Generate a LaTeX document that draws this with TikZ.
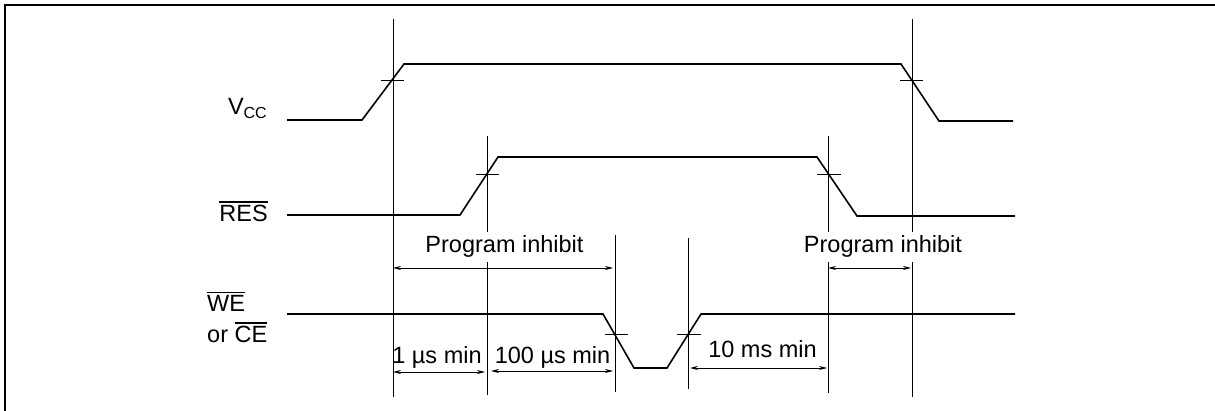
\documentclass[tikz,border=0pt]{standalone}
\usepackage{fontspec}
\setmainfont{Liberation Sans}
\usetikzlibrary{arrows.meta}
\newcommand\ovl[1]{\leavevmode\vbox{\hrule height 1.3pt\kern 2.8pt\hbox{#1}}}
\tikzset{
  signal/.style={line width=1.6pt, line join=miter},
  guide/.style={line width=0.8pt},
  tick/.style={line width=0.8pt},
  dim/.style={line width=0.8pt, {Stealth[length=8pt,width=4pt]}-{Stealth[length=8pt,width=4pt]}},
  lbl/.style={font=\fontsize{23.5}{28}\selectfont, inner sep=0pt},
  gaplbl/.style={lbl, fill=white, inner xsep=2pt, inner ysep=4pt},
}
\begin{document}
\begin{tikzpicture}[x=1pt,y=-1pt]
\useasboundingbox (0,0) rectangle (1215,411);
% frame (cropped)
\draw[line width=2pt] (5,411) -- (5,5.5) -- (1215,5.5);

% guide lines
\coordinate (g1t) at (393,19);  \coordinate (g1b) at (393,397);
\coordinate (g2t) at (487,136); \coordinate (g2b) at (487,395);
\coordinate (g3t) at (615,235); \coordinate (g3b) at (615,392);
\coordinate (g4t) at (688,238); \coordinate (g4b) at (688,389);
\coordinate (g5t) at (828,136); \coordinate (g5b) at (828,393);
\coordinate (g6t) at (912,19);  \coordinate (g6b) at (912,397);
\foreach \g in {1,...,6} \draw[guide] (g\g t) -- (g\g b);

% signals
\draw[signal] (287,120) -- (362,120) -- (404,64) -- (901,64) -- (939,121) -- (1013,121);
\draw[signal] (287,215) -- (460,215) -- (498,157) -- (817,157) -- (857,216) -- (1015,216);
\draw[signal] (287,314) -- (603,314) -- (634,368) -- (667,368) -- (701,314) -- (1015,314);

% ticks
\draw[tick] (381,80) -- (404,80);
\draw[tick] (476,174) -- (499,174);
\draw[tick] (900,80) -- (923,80);
\draw[tick] (817,174) -- (841,174);
\draw[tick] (605,334) -- (628,334);
\draw[tick] (677,334) -- (701,334);

% signal labels
\node[lbl, anchor=base east] (vcc) at (267,115) {V\raisebox{-4pt}{\fontsize{16}{16}\selectfont CC}};
\node[lbl, anchor=base east] (res) at (268,222) {\ovl{RES}};
\node[lbl, anchor=base west] (we) at (207,312) {\ovl{WE}};
\node[lbl, anchor=base west] (ce) at (207,343) {or \ovl{CE}};

% dimension arrows
\draw[dim] (393,268) -- (613,268);
\draw[dim] (828,268) -- (911,268);
\draw[dim] (393,372) -- (485,372);
\draw[dim] (491,371) -- (613,371);
\draw[dim] (690,368) -- (827,368);

% dimension labels
\node[gaplbl, anchor=base] (pi1) at (504.5,253) {Program inhibit};
\node[gaplbl, anchor=base] (pi2) at (883,253) {Program inhibit};
\node[lbl, anchor=base] (t1) at (437,363) {1 µs min};
\node[lbl, anchor=base] (t2) at (552.5,363) {100 µs min};
\node[lbl, anchor=base] (t3) at (762.5,358) {10 ms min};
\end{tikzpicture}
\end{document}
